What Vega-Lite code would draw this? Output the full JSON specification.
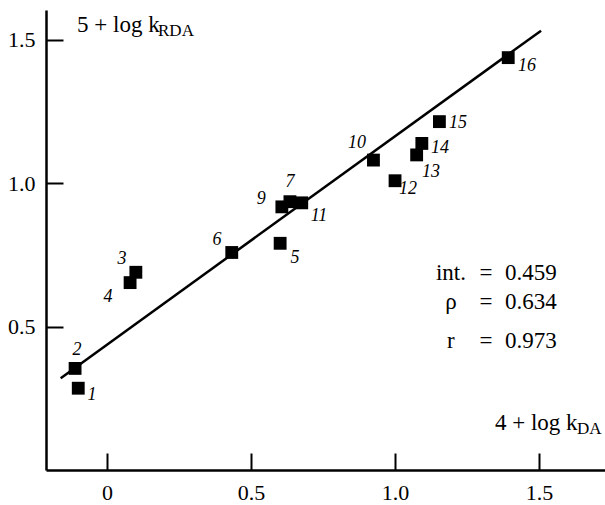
{
  "$schema": "https://vega.github.io/schema/vega-lite/v6.json",
  "width": 559,
  "height": 460,
  "autosize": {"type": "none"},
  "padding": {"left": 46, "top": 10, "right": 0, "bottom": 35},
  "config": {
    "view": {"stroke": null},
    "font": "Liberation Serif",
    "axis": {
      "domainColor": "black",
      "domainWidth": 2.5,
      "tickColor": "black",
      "tickWidth": 2,
      "tickSize": -17,
      "labelFont": "Liberation Serif",
      "labelFontSize": 22,
      "labelColor": "black",
      "grid": false,
      "title": null
    }
  },
  "datasets": {
    "points": [
      {"id": "1", "x": -0.100, "y": 0.285},
      {"id": "2", "x": -0.111, "y": 0.354},
      {"id": "3", "x": 0.100, "y": 0.689},
      {"id": "4", "x": 0.080, "y": 0.653},
      {"id": "5", "x": 0.601, "y": 0.790},
      {"id": "6", "x": 0.433, "y": 0.758},
      {"id": "7", "x": 0.635, "y": 0.935},
      {"id": "9", "x": 0.607, "y": 0.917},
      {"id": "10", "x": 0.925, "y": 1.080},
      {"id": "11", "x": 0.676, "y": 0.931},
      {"id": "12", "x": 1.000, "y": 1.008},
      {"id": "13", "x": 1.075, "y": 1.098},
      {"id": "14", "x": 1.093, "y": 1.138},
      {"id": "15", "x": 1.154, "y": 1.214},
      {"id": "16", "x": 1.393, "y": 1.437}
    ],
    "labels": [
      {"id": "1", "x": -0.052, "y": 0.261},
      {"id": "2", "x": -0.104, "y": 0.418},
      {"id": "3", "x": 0.052, "y": 0.735},
      {"id": "4", "x": 0.003, "y": 0.603},
      {"id": "5", "x": 0.653, "y": 0.739},
      {"id": "6", "x": 0.382, "y": 0.801},
      {"id": "7", "x": 0.635, "y": 1.003},
      {"id": "9", "x": 0.535, "y": 0.944},
      {"id": "10", "x": 0.868, "y": 1.139},
      {"id": "11", "x": 0.736, "y": 0.885},
      {"id": "12", "x": 1.045, "y": 0.979},
      {"id": "13", "x": 1.125, "y": 1.038},
      {"id": "14", "x": 1.156, "y": 1.122},
      {"id": "15", "x": 1.219, "y": 1.209},
      {"id": "16", "x": 1.458, "y": 1.408}
    ],
    "fit": [
      {"x": -0.161, "y": 0.320},
      {"x": 1.507, "y": 1.531}
    ],
    "stats": [
      {"t": "int.", "x": 1.194, "y": 0.662},
      {"t": "=", "x": 1.316, "y": 0.662},
      {"t": "0.459", "x": 1.472, "y": 0.662},
      {"t": "ρ", "x": 1.194, "y": 0.561},
      {"t": "=", "x": 1.316, "y": 0.561},
      {"t": "0.634", "x": 1.472, "y": 0.561},
      {"t": "r", "x": 1.194, "y": 0.425},
      {"t": "=", "x": 1.316, "y": 0.425},
      {"t": "0.973", "x": 1.472, "y": 0.425}
    ],
    "titleMain": [
      {"t": "5 + log k", "x": -0.104, "y": 1.526},
      {"t": "4 + log k", "x": 1.347, "y": 0.139}
    ],
    "titleSub": [
      {"t": "RDA", "x": 0.177, "y": 1.512},
      {"t": "DA", "x": 1.632, "y": 0.125}
    ]
  },
  "encoding": {
    "x": {
      "field": "x",
      "type": "quantitative",
      "scale": {"domain": [-0.212, 1.729], "nice": false, "zero": false},
      "axis": {
        "values": [0, 0.5, 1, 1.5],
        "labelExpr": "datum.value == 0 ? '0' : format(datum.value, '.1f')",
        "labelPadding": 29
      }
    },
    "y": {
      "field": "y",
      "type": "quantitative",
      "scale": {"domain": [0, 1.603], "nice": false, "zero": false},
      "axis": {
        "values": [0.5, 1, 1.5],
        "format": ".1f",
        "labelPadding": 28
      }
    }
  },
  "layer": [
    {
      "data": {"name": "fit"},
      "mark": {"type": "line", "color": "black", "strokeWidth": 2.5}
    },
    {
      "data": {"name": "points"},
      "mark": {"type": "point", "shape": "square", "filled": true, "size": 165, "color": "black", "opacity": 1}
    },
    {
      "data": {"name": "labels"},
      "mark": {"type": "text", "fontStyle": "italic", "fontSize": 18, "align": "center", "baseline": "middle", "color": "black"},
      "encoding": {"text": {"field": "id"}}
    },
    {
      "data": {"name": "stats"},
      "mark": {"type": "text", "fontSize": 23, "align": "center", "baseline": "alphabetic", "color": "black"},
      "encoding": {"text": {"field": "t"}}
    },
    {
      "data": {"name": "titleMain"},
      "mark": {"type": "text", "fontSize": 23, "align": "left", "baseline": "alphabetic", "color": "black"},
      "encoding": {"text": {"field": "t"}}
    },
    {
      "data": {"name": "titleSub"},
      "mark": {"type": "text", "fontSize": 17, "align": "left", "baseline": "alphabetic", "color": "black"},
      "encoding": {"text": {"field": "t"}}
    }
  ]
}
